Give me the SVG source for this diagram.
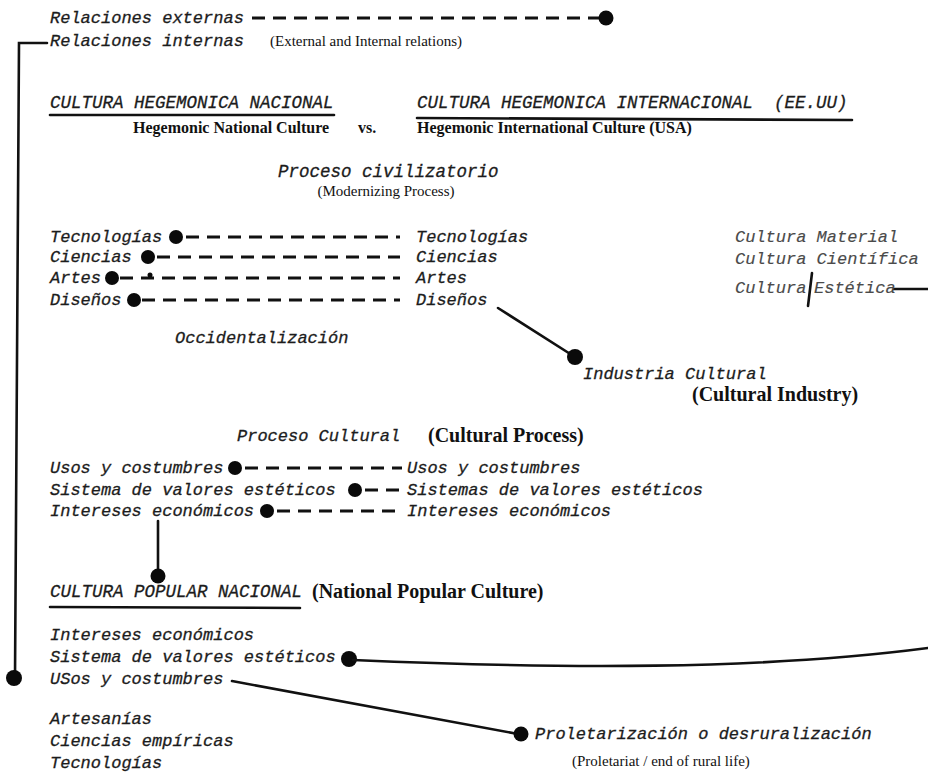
<svg xmlns="http://www.w3.org/2000/svg" width="928" height="777" viewBox="0 0 928 777">
  <style>
    .tw { font-family: "Liberation Mono", "DejaVu Sans Mono", monospace; font-style: italic; font-size: 17px; fill: #1c1c1c; stroke: #1c1c1c; stroke-width: 0.3; }
    .hd { font-family: "Liberation Mono", "DejaVu Sans Mono", monospace; font-style: italic; font-size: 17.5px; fill: #1c1c1c; stroke: #1c1c1c; stroke-width: 0.3; }
    .fd { fill: #4a4a4a; stroke: #4a4a4a; stroke-width: 0.15; }
    .tb { font-family: "Liberation Serif", "Times New Roman", serif; font-weight: bold; font-size: 16px; fill: #111; }
    .tbig { font-family: "Liberation Serif", "Times New Roman", serif; font-weight: bold; font-size: 20px; fill: #111; }
    .tr { font-family: "Liberation Serif", "Times New Roman", serif; font-size: 15px; fill: #111; }
    .solid { stroke: #111; stroke-width: 2.6; fill: none; stroke-linecap: round; }
    .dash { stroke: #111; stroke-width: 3; fill: none; stroke-dasharray: 13 8; }
    .dot { fill: #0a0a0a; }
  </style>

  <rect width="928" height="777" fill="#ffffff"/>

  <!-- connectors -->
  <g id="connectors">
    <!-- external relations -->
    <line class="dash" x1="252" y1="18" x2="599" y2="18" stroke-dasharray="17 10"/>
    <circle class="dot" cx="606" cy="18" r="7.5"/>
    <!-- internal relations bracket -->
    <polyline class="solid" points="47,43 19,43 15,678"/>
    <circle class="dot" cx="14" cy="678" r="8"/>

    <!-- Proceso civilizatorio rows -->
    <circle class="dot" cx="176" cy="237" r="7"/>
    <line class="dash" x1="186" y1="237" x2="400" y2="237"/>
    <circle class="dot" cx="148" cy="257" r="7"/>
    <line class="dash" x1="157" y1="257" x2="400" y2="257"/>
    <circle class="dot" cx="112" cy="278" r="7"/>
    <line class="dash" x1="120" y1="278" x2="400" y2="278"/>
    <circle class="dot" cx="150" cy="275" r="2.5"/>
    <circle class="dot" cx="134" cy="300" r="7"/>
    <line class="dash" x1="142" y1="300" x2="400" y2="300"/>

    <!-- Diseños to Industria Cultural -->
    <line class="solid" x1="498" y1="308" x2="575" y2="357"/>
    <circle class="dot" cx="575" cy="357" r="8"/>

    <!-- Cultura / Estética -->
    <line class="solid" x1="812" y1="273" x2="808" y2="306" stroke-width="2.2"/>
    <line class="solid" x1="894" y1="289" x2="928" y2="289"/>

    <!-- Proceso cultural rows -->
    <circle class="dot" cx="235" cy="468" r="7"/>
    <line class="dash" x1="245" y1="468" x2="402" y2="468" stroke-dasharray="11 6"/>
    <circle class="dot" cx="355" cy="490" r="7"/>
    <line class="dash" x1="365" y1="490" x2="402" y2="490" stroke-dasharray="11 6"/>
    <circle class="dot" cx="267" cy="511" r="7"/>
    <line class="dash" x1="277" y1="511" x2="402" y2="511" stroke-dasharray="11 6"/>
    <line class="solid" x1="158" y1="521" x2="158" y2="572"/>
    <circle class="dot" cx="158" cy="576" r="7.5"/>

    <!-- popular culture links -->
    <circle class="dot" cx="349" cy="659" r="8"/>
    <path class="solid" d="M 353 660 C 560 669, 760 670, 928 648" stroke-width="3"/>
    <line class="solid" x1="232" y1="681" x2="518" y2="734"/>
    <circle class="dot" cx="521" cy="734" r="7.5"/>
  </g>

  <!-- relations -->
  <g id="relaciones">
    <text class="tw" x="50" y="23">Relaciones externas</text>
    <text class="tw" x="50" y="46">Relaciones internas</text>
    <text class="tr" x="270" y="46">(External and Internal relations)</text>
  </g>

  <!-- headings -->
  <g id="cultura-hegemonica-nacional">
    <text class="hd" x="50" y="108">CULTURA HEGEMONICA NACIONAL</text>
    <line class="solid" x1="50" y1="115" x2="334" y2="115" stroke-width="2.4"/>
    <text class="tb" x="133" y="133">Hegemonic National Culture</text>
  </g>
  <g id="versus">
    <text class="tb" x="358" y="133">vs.</text>
  </g>
  <g id="cultura-hegemonica-internacional">
    <text class="hd" x="417" y="108" xml:space="preserve">CULTURA HEGEMONICA INTERNACIONAL  (EE.UU)</text>
    <line class="solid" x1="417" y1="118" x2="852" y2="120" stroke-width="2.4"/>
    <text class="tb" x="417" y="133">Hegemonic International Culture (USA)</text>
  </g>

  <g id="proceso-civilizatorio">
    <text class="hd" x="278" y="177">Proceso civilizatorio</text>
    <text class="tr" x="386" y="196" text-anchor="middle">(Modernizing Process)</text>
  </g>

  <!-- national column -->
  <g id="nacional-items">
    <text class="tw" x="50" y="242">Tecnologías</text>
    <text class="tw" x="50" y="262">Ciencias</text>
    <text class="tw" x="50" y="283">Artes</text>
    <text class="tw" x="50" y="305">Diseños</text>
  </g>
  <!-- international column -->
  <g id="internacional-items">
    <text class="tw" x="416" y="242">Tecnologías</text>
    <text class="tw" x="416" y="262">Ciencias</text>
    <text class="tw" x="416" y="283">Artes</text>
    <text class="tw" x="416" y="305">Diseños</text>
  </g>
  <g id="occidentalizacion">
    <text class="tw" x="175" y="343">Occidentalización</text>
  </g>
  <g id="industria-cultural">
    <text class="tw" x="583" y="379">Industria Cultural</text>
    <text class="tbig" x="692" y="401">(Cultural Industry)</text>
  </g>
  <g id="cultura-tipos">
    <text class="tw fd" x="735" y="242">Cultura Material</text>
    <text class="tw fd" x="735" y="264">Cultura Científica</text>
    <text class="tw fd" x="735" y="293">Cultura</text>
    <text class="tw fd" x="814" y="293">Estética</text>
  </g>

  <!-- cultural process -->
  <g id="proceso-cultural">
    <text class="tw" x="237" y="441">Proceso Cultural</text>
    <text class="tbig" x="428" y="442">(Cultural Process)</text>
  </g>
  <g id="proceso-cultural-nacional">
    <text class="tw" x="50" y="473">Usos y costumbres</text>
    <text class="tw" x="50" y="495">Sistema de valores estéticos</text>
    <text class="tw" x="50" y="516">Intereses económicos</text>
  </g>
  <g id="proceso-cultural-internacional">
    <text class="tw" x="407" y="473">Usos y costumbres</text>
    <text class="tw" x="407" y="495">Sistemas de valores estéticos</text>
    <text class="tw" x="407" y="516">Intereses económicos</text>
  </g>

  <!-- national popular culture -->
  <g id="cultura-popular-nacional">
    <text class="hd" x="50" y="597">CULTURA POPULAR NACIONAL</text>
    <line class="solid" x1="50" y1="607" x2="300" y2="608" stroke-width="2.4"/>
    <text class="tbig" x="312" y="598">(National Popular Culture)</text>
  </g>
  <g id="popular-items">
    <text class="tw" x="50" y="640">Intereses económicos</text>
    <text class="tw" x="50" y="662">Sistema de valores estéticos</text>
    <text class="tw" x="50" y="684">USos y costumbres</text>
    <text class="tw" x="50" y="724">Artesanías</text>
    <text class="tw" x="50" y="746">Ciencias empíricas</text>
    <text class="tw" x="50" y="768">Tecnologías</text>
  </g>
  <g id="proletarizacion">
    <text class="tw" x="535" y="739">Proletarización o desruralización</text>
    <text class="tr" x="572" y="766">(Proletariat / end of rural life)</text>
  </g>
</svg>
